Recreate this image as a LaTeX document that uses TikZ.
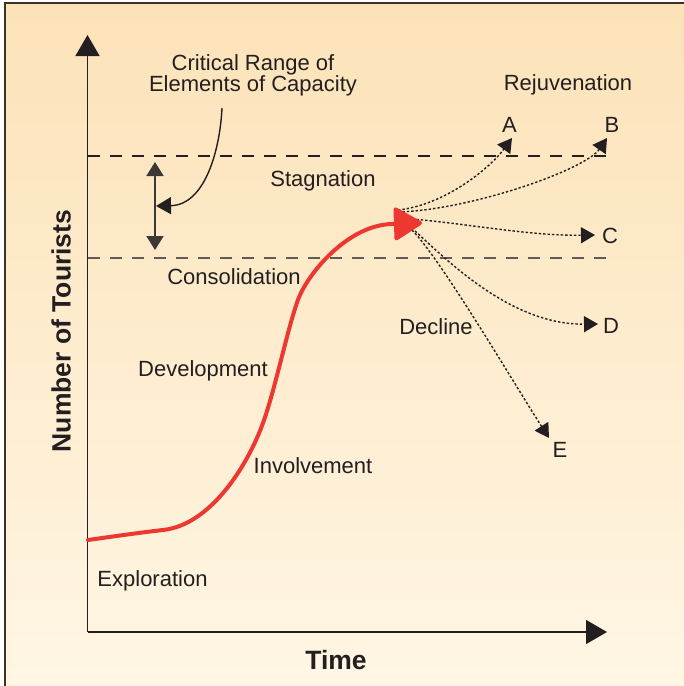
\documentclass[tikz,border=0pt]{standalone}
\usepackage{fontspec}
\setmainfont{Liberation Sans}
\usetikzlibrary{arrows.meta}
\definecolor{ink}{RGB}{35,31,32}
\definecolor{inkgray}{RGB}{60,56,54}
\definecolor{limitgray}{RGB}{98,92,86}
\definecolor{curvered}{RGB}{236,56,48}
\definecolor{bgtop}{RGB}{252,226,184}
\definecolor{bgbot}{RGB}{255,246,228}
\definecolor{framec}{RGB}{60,50,40}

\begin{document}
\begin{tikzpicture}[x=1pt,y=-1pt,
  lbl/.style={text=ink,font=\fontsize{22}{20}\selectfont,inner sep=0pt,
    text height=15.8pt,text depth=0pt},
  axislbl/.style={text=ink,font=\fontsize{26.5}{30}\selectfont\bfseries,inner sep=0pt,
    text height=19pt,text depth=0pt},
  axis/.style={draw=ink,line width=1.4pt,-{Triangle[length=21pt,width=24pt]}},
  limit/.style={line width=1.5pt,dash pattern=on 12pt off 10pt},
  trend/.style={draw=ink,line width=1.4pt,dash pattern=on 2.4pt off 2pt,
    -{Triangle[length=14pt,width=16pt]}},
  pointer/.style={draw=ink,line width=1.4pt,-{Triangle[length=15pt,width=17pt]}},
  rangebar/.style={draw=inkgray,line width=1.8pt,
    {Triangle[length=14pt,width=17pt]}-{Triangle[length=14pt,width=17pt]}},
  lifecycle/.style={draw=curvered,line width=4pt,line cap=round,line join=round,
    -{Triangle[length=30pt,width=35pt,round=false]}}
]
% page and panel background
\useasboundingbox (0,0) rectangle (684,686);
\fill[white] (0,0) rectangle (684,686);
\shade[top color=bgtop,bottom color=bgbot] (5,3) rectangle (684,686);
\draw[framec,line width=1.6pt] (5,686) -- (5,3) -- (684,3);

% axes
\coordinate (O) at (87.5,632);
\coordinate (ytop) at (87.5,35);
\coordinate (xend) at (607,632);
\draw[axis] (O) -- (ytop);
\draw[axis] (O) -- (xend);

% capacity limits
\coordinate (capHiL) at (88,156);
\coordinate (capHiR) at (608,156);
\coordinate (capLoL) at (88,258);
\coordinate (capLoR) at (608,258);
\draw[limit,draw=ink] (capHiL) -- (capHiR);
\draw[limit,draw=limitgray] (capLoL) -- (capLoR);

% critical range marker
\coordinate (rangeTop) at (155,162);
\coordinate (rangeBot) at (155,250);
\draw[rangebar] (rangeTop) -- (rangeBot);
\node[lbl] (crit1) at (253,63) {Critical Range of};
\node[lbl] (crit2) at (253,83.5) {Elements of Capacity};
\coordinate (critFrom) at (222,108);
\coordinate (critTo) at (156,206);
\draw[pointer] (critFrom) .. controls (220,150) and (205,205) .. (critTo);

% future paths after stagnation
\coordinate (sA) at (398,210);
\coordinate (sB) at (398,212);
\coordinate (sC) at (412,219);
\coordinate (sD) at (415,231);
\coordinate (sE) at (412,230);
\coordinate (tA) at (512,138);
\coordinate (tB) at (607,138);
\coordinate (tC) at (595,235);
\coordinate (tD) at (598,324);
\coordinate (tE) at (549,438);
\draw[trend] (sA) .. controls (445,205) and (490,168) .. (tA);
\draw[trend] (sB) .. controls (470,210) and (585,170) .. (tB);
\draw[trend] (sC) .. controls (470,224) and (530,236) .. (tC);
\draw[trend] (sD) .. controls (445,258) and (510,325) .. (tD);
\draw[trend] (sE) .. controls (440,258) and (515,385) .. (tE);

% tourist area life cycle
\coordinate (start) at (88,540);
\coordinate (peak) at (422,223);
\draw[lifecycle] (start) .. controls (120,535.5) and (143,532.2) .. (163,530)
  .. controls (210,525) and (247,467) .. (263,423)
  .. controls (275.8,387.8) and (290,317) .. (300,295)
  .. controls (312,268.6) and (350,225) .. (392,224) -- (peak);

% labels
\node[lbl] (rejuv) at (568,83) {Rejuvenation};
\node[lbl] (labA) at (509.5,124.5) {A};
\node[lbl] (labB) at (612,124.5) {B};
\node[lbl] (labC) at (610,235.5) {C};
\node[lbl] (labD) at (611,325.5) {D};
\node[lbl] (labE) at (560,450) {E};
\node[lbl] (stag) at (323,179) {Stagnation};
\node[lbl] (consol) at (234,277) {Consolidation};
\node[lbl] (decl) at (436,327) {Decline};
\node[lbl] (devel) at (203,369) {Development};
\node[lbl] (invol) at (313,466) {Involvement};
\node[lbl] (explo) at (152.5,579) {Exploration};
\node[axislbl] (timelbl) at (336,659.5) {Time};
\node[axislbl,rotate=90] (ylbl) at (61,331) {Number of Tourists};
\end{tikzpicture}
\end{document}
